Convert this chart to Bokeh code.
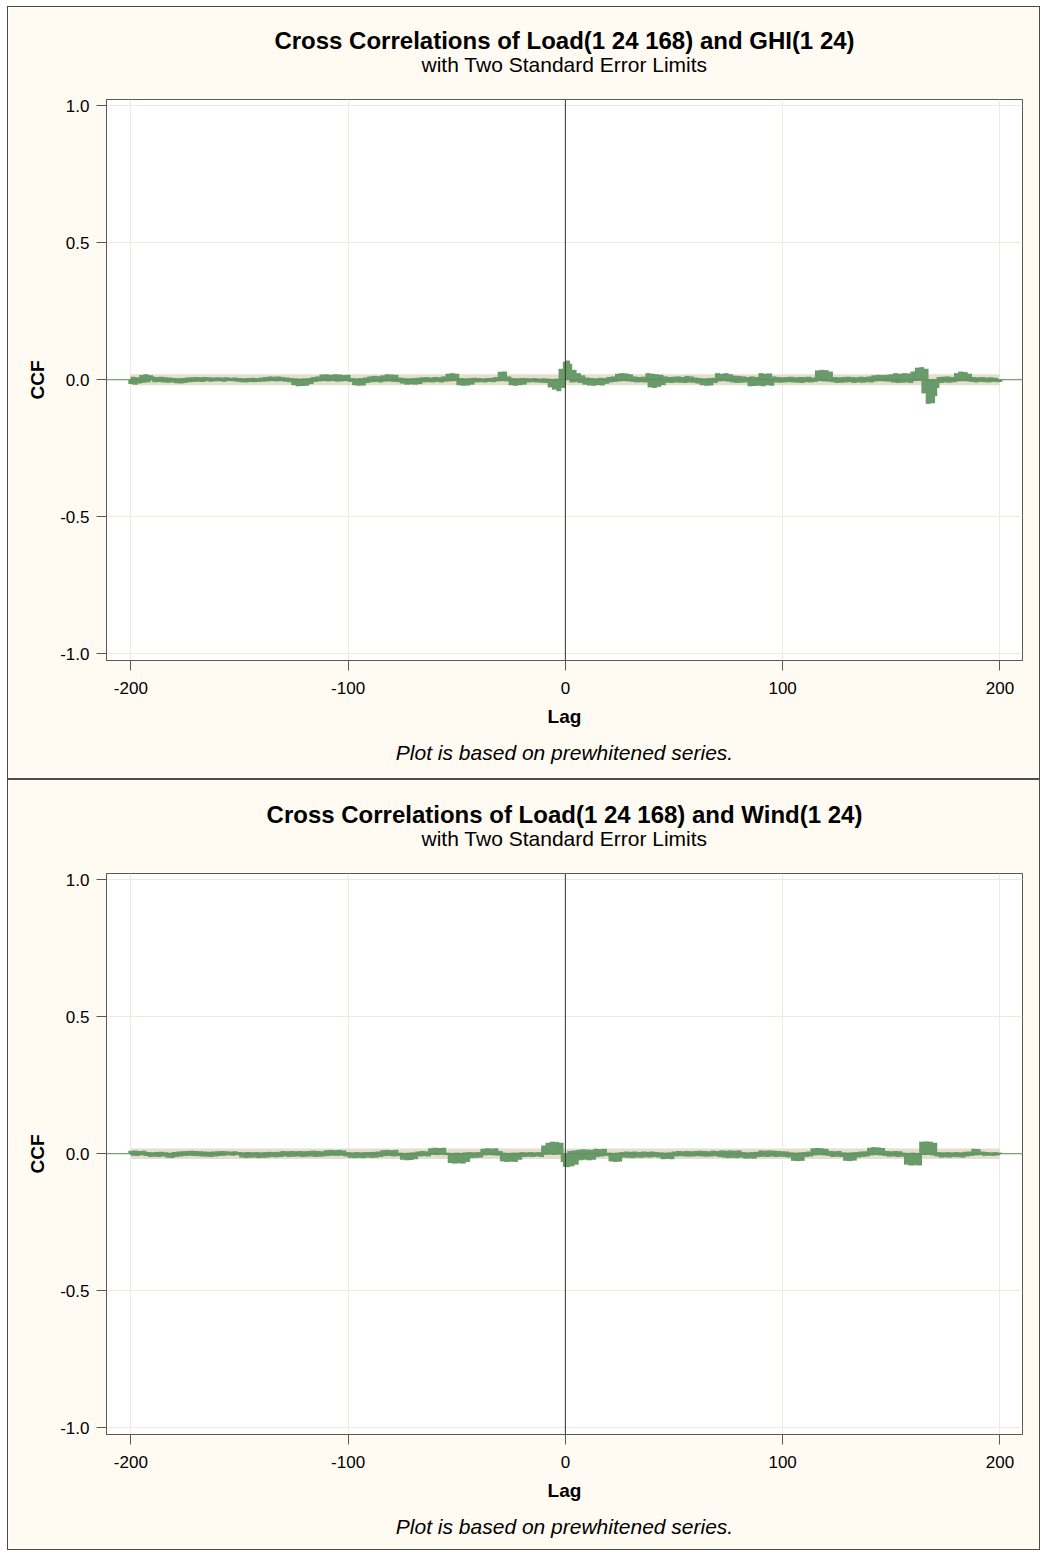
from bokeh.plotting import figure
from bokeh.models import Range1d, FixedTicker, Span, Title
from bokeh.layouts import column
from bokeh.embed import file_html
from bokeh.resources import INLINE

# ---------------- data ----------------
lags = list(range(-200, 201))

ghi_ccf = [
    -0.016, 0.011, -0.018, 0.009, -0.014, 0.017, -0.011, 0.020, -0.009, 0.016,   # -200
    0.012, -0.009, 0.010, -0.008, 0.011, -0.010, 0.009, -0.011, 0.008, -0.010,   # -190
    0.006, -0.013, 0.005, -0.014, 0.006, -0.012, 0.008, -0.009, 0.009, -0.008,   # -180
    0.010, -0.007, 0.009, -0.008, 0.010, -0.006, 0.009, -0.007, 0.008, -0.006,   # -170
    0.009, -0.006, 0.008, -0.007, 0.009, -0.005, 0.007, -0.006, 0.008, -0.007,   # -160
    0.006, -0.009, 0.005, -0.010, 0.006, -0.008, 0.007, -0.009, 0.006, -0.008,   # -150
    0.008, -0.007, 0.010, -0.006, 0.012, -0.005, 0.011, -0.006, 0.012, -0.005,   # -140
    0.010, -0.007, 0.008, -0.009, 0.006, -0.020, 0.005, -0.024, 0.004, -0.023,   # -130
    0.005, -0.022, 0.006, -0.016, 0.010, -0.008, 0.012, -0.006, 0.019, -0.005,   # -120
    0.020, -0.006, 0.018, -0.005, 0.020, -0.007, 0.019, -0.006, 0.017, -0.005,   # -110
    0.018, -0.008, 0.006, -0.020, 0.005, -0.022, 0.006, -0.021, 0.008, -0.012,   # -100
    0.012, -0.009, 0.014, -0.008, 0.013, -0.010, 0.016, -0.007, 0.020, -0.006,   # -90
    0.019, -0.008, 0.018, -0.009, 0.008, -0.014, 0.006, -0.018, 0.005, -0.017,   # -80
    0.006, -0.018, 0.007, -0.016, 0.009, -0.010, 0.010, -0.009, 0.008, -0.010,   # -70
    0.010, -0.008, 0.009, -0.010, 0.012, -0.007, 0.022, -0.006, 0.024, -0.005,   # -60
    0.022, -0.020, 0.006, -0.022, 0.005, -0.021, 0.006, -0.018, 0.007, -0.010,   # -50
    0.006, -0.009, 0.005, -0.010, 0.006, -0.008, 0.007, -0.009, 0.010, -0.006,   # -40
    0.029, -0.005, 0.030, -0.006, 0.012, -0.020, 0.006, -0.022, 0.005, -0.020,   # -30
    0.006, -0.018, 0.006, -0.010, 0.005, -0.009, 0.006, -0.010, 0.004, -0.011,   # -20
    0.005, -0.012, 0.004, -0.028, 0.003, -0.036, 0.004, -0.042, 0.040, -0.030,   # -10
    0.066, 0.070, 0.058, -0.010, 0.036, -0.009, 0.024, -0.012, 0.016, -0.018,    # 0
    0.008, -0.021, 0.006, -0.022, 0.005, -0.020, 0.007, -0.021, 0.006, -0.015,   # 10
    0.010, -0.010, 0.012, -0.008, 0.022, -0.006, 0.024, -0.005, 0.023, -0.006,   # 20
    0.020, -0.008, 0.012, -0.010, 0.010, -0.009, 0.011, -0.010, 0.024, -0.028,   # 30
    0.022, -0.030, 0.020, -0.026, 0.018, -0.020, 0.012, -0.011, 0.010, -0.012,   # 40
    0.011, -0.010, 0.012, -0.011, 0.010, -0.012, 0.014, -0.010, 0.012, -0.011,   # 50
    0.008, -0.014, 0.006, -0.020, 0.005, -0.022, 0.006, -0.021, 0.007, -0.012,   # 60
    0.024, -0.006, 0.022, -0.005, 0.024, -0.007, 0.020, -0.010, 0.015, -0.012,   # 70
    0.014, -0.011, 0.012, -0.010, 0.010, -0.024, 0.012, -0.023, 0.010, -0.022,   # 80
    0.024, -0.024, 0.022, -0.020, 0.023, -0.022, 0.012, -0.010, 0.010, -0.011,   # 90
    0.009, -0.010, 0.010, -0.009, 0.011, -0.010, 0.009, -0.011, 0.010, -0.012,   # 100
    0.010, -0.009, 0.011, -0.010, 0.008, -0.008, 0.034, -0.005, 0.036, -0.006,   # 110
    0.035, -0.007, 0.030, -0.009, 0.010, -0.012, 0.009, -0.011, 0.010, -0.010,   # 120
    0.011, -0.009, 0.010, -0.012, 0.009, -0.010, 0.011, -0.011, 0.010, -0.009,   # 130
    0.012, -0.010, 0.016, -0.006, 0.018, -0.005, 0.017, -0.006, 0.018, -0.007,   # 140
    0.020, -0.010, 0.024, -0.012, 0.022, -0.011, 0.024, -0.010, 0.023, -0.012,   # 150
    0.030, -0.005, 0.044, -0.004, 0.046, -0.050, 0.040, -0.088, -0.080, -0.086,  # 160
    -0.060, -0.030, 0.010, -0.012, 0.011, -0.010, 0.012, -0.011, 0.010, -0.009,  # 170
    0.024, -0.006, 0.030, -0.005, 0.028, -0.006, 0.022, -0.008, 0.010, -0.010,   # 180
    0.009, -0.008, 0.010, -0.009, 0.008, -0.010, 0.009, -0.008, 0.007, -0.009,   # 190
    -0.008,                                                                      # 200
]

wind_ccf = [
    0.011, -0.007, 0.012, -0.008, 0.010, -0.006, 0.011, -0.008, 0.006, -0.012,   # -200
    0.005, -0.011, 0.006, -0.012, 0.007, -0.010, 0.005, -0.015, 0.004, -0.016,   # -190
    0.006, -0.012, 0.008, -0.010, 0.009, -0.008, 0.010, -0.007, 0.011, -0.008,   # -180
    0.010, -0.009, 0.009, -0.010, 0.008, -0.011, 0.007, -0.012, 0.008, -0.010,   # -170
    0.009, -0.008, 0.010, -0.007, 0.009, -0.006, 0.008, -0.007, 0.009, -0.006,   # -160
    0.006, -0.014, 0.005, -0.016, 0.006, -0.015, 0.005, -0.014, 0.006, -0.016,   # -150
    0.005, -0.015, 0.006, -0.014, 0.007, -0.012, 0.006, -0.013, 0.007, -0.012,   # -140
    0.010, -0.010, 0.009, -0.012, 0.010, -0.011, 0.009, -0.010, 0.010, -0.012,   # -130
    0.009, -0.011, 0.010, -0.010, 0.011, -0.012, 0.010, -0.011, 0.009, -0.010,   # -120
    0.013, -0.008, 0.014, -0.007, 0.013, -0.008, 0.014, -0.007, 0.012, -0.010,   # -110
    0.006, -0.015, 0.005, -0.016, 0.006, -0.015, 0.005, -0.016, 0.006, -0.014,   # -100
    0.006, -0.015, 0.007, -0.014, 0.008, -0.012, 0.013, -0.009, 0.014, -0.008,   # -90
    0.013, -0.010, 0.014, -0.009, 0.004, -0.022, 0.003, -0.024, 0.004, -0.023,   # -80
    0.005, -0.020, 0.008, -0.010, 0.010, -0.009, 0.009, -0.010, 0.020, -0.004,   # -70
    0.022, -0.005, 0.021, -0.004, 0.022, -0.005, 0.004, -0.034, 0.003, -0.036,   # -60
    0.004, -0.035, 0.003, -0.036, 0.005, -0.030, 0.006, -0.016, 0.005, -0.015,   # -50
    0.006, -0.014, 0.018, -0.006, 0.020, -0.005, 0.019, -0.006, 0.020, -0.007,   # -40
    0.010, -0.028, 0.004, -0.030, 0.003, -0.029, 0.004, -0.030, 0.004, -0.022,   # -30
    0.006, -0.012, 0.005, -0.011, 0.006, -0.012, 0.005, -0.010, 0.006, -0.012,   # -20
    0.030, -0.004, 0.040, -0.003, 0.044, -0.004, 0.043, -0.003, 0.040, -0.030,   # -10
    -0.048, -0.049, 0.010, -0.046, 0.012, -0.040, 0.014, -0.024, 0.016, -0.022,  # 0
    0.015, -0.024, 0.014, -0.022, 0.018, -0.012, 0.017, -0.010, 0.018, -0.008,   # 10
    0.004, -0.028, 0.003, -0.030, 0.004, -0.029, 0.006, -0.014, 0.008, -0.015,   # 20
    0.007, -0.016, 0.008, -0.014, 0.006, -0.015, 0.008, -0.013, 0.007, -0.014,   # 30
    0.008, -0.012, 0.006, -0.014, 0.005, -0.020, 0.004, -0.019, 0.005, -0.020,   # 40
    0.008, -0.010, 0.010, -0.009, 0.009, -0.010, 0.010, -0.011, 0.009, -0.010,   # 50
    0.010, -0.009, 0.011, -0.010, 0.010, -0.011, 0.009, -0.010, 0.011, -0.009,   # 60
    0.010, -0.012, 0.012, -0.014, 0.011, -0.016, 0.012, -0.015, 0.011, -0.016,   # 70
    0.012, -0.014, 0.006, -0.018, 0.005, -0.017, 0.006, -0.018, 0.007, -0.012,   # 80
    0.012, -0.011, 0.011, -0.012, 0.012, -0.010, 0.011, -0.012, 0.010, -0.011,   # 90
    0.009, -0.012, 0.008, -0.014, 0.005, -0.026, 0.004, -0.027, 0.005, -0.026,   # 100
    0.006, -0.012, 0.008, -0.010, 0.020, -0.006, 0.021, -0.005, 0.020, -0.006,   # 110
    0.018, -0.008, 0.010, -0.012, 0.009, -0.011, 0.010, -0.012, 0.005, -0.026,   # 120
    0.004, -0.027, 0.005, -0.025, 0.006, -0.014, 0.008, -0.012, 0.009, -0.010,   # 130
    0.022, -0.006, 0.024, -0.005, 0.023, -0.006, 0.021, -0.008, 0.010, -0.011,   # 140
    0.009, -0.010, 0.010, -0.012, 0.009, -0.011, 0.004, -0.040, 0.003, -0.043,   # 150
    0.004, -0.042, 0.003, -0.043, 0.044, -0.005, 0.045, -0.004, 0.044, -0.006,   # 160
    0.040, -0.010, 0.006, -0.014, 0.005, -0.013, 0.006, -0.014, 0.005, -0.012,   # 170
    0.006, -0.013, 0.005, -0.014, 0.007, -0.010, 0.008, -0.008, 0.018, -0.006,   # 180
    0.017, -0.005, 0.008, -0.008, 0.006, -0.007, 0.005, -0.008, 0.006, -0.006,   # 190
    0.004,                                                                       # 200
]

ghi_limit = 0.020
wind_limit = 0.019

x_ticks = [-200, -100, 0, 100, 200]
x_tick_labels = ["-200", "-100", "0", "100", "200"]
y_ticks = [-1.0, -0.5, 0.0, 0.5, 1.0]
y_tick_labels = ["-1.0", "-0.5", "0.0", "0.5", "1.0"]

titles = ["Cross Correlations of Load(1 24 168) and GHI(1 24)",
          "Cross Correlations of Load(1 24 168) and Wind(1 24)"]
subtitle = "with Two Standard Error Limits"
footnote = "Plot is based on prewhitened series."
x_label = "Lag"
y_label = "CCF"

# ---------------- style ----------------
FONT = "Liberation Sans"
BG = "#FFFBF3"
GREEN = "#699A69"
BAND = "#E4DECC"
FRAME = "#5A5A4E"
GRID = "#ECEBDD"


def make_panel(title, ccf, limit, height, top_border, margin):
    assert len(ccf) == len(lags)
    p = figure(width=1033, height=height, output_backend="svg", toolbar_location=None,
               x_range=Range1d(-211.2, 210.4), y_range=Range1d(-1.025, 1.023),
               min_border_left=98, min_border_right=19, min_border_top=top_border,
               min_border_bottom=height - top_border - 561,
               background_fill_color="white", border_fill_color=BG,
               outline_line_color=FRAME, outline_line_width=1,
               margin=margin, styles={"border": "1px solid #4E4E44"})

    # standard error band
    p.varea(x=lags, y1=[-limit] * len(lags), y2=[limit] * len(lags), fill_color=BAND)
    # needles
    p.segment(x0=lags, y0=[0] * len(lags), x1=lags, y1=ccf,
              line_color=GREEN, line_width=5, line_cap="butt")
    p.add_layout(Span(location=0, dimension="width", line_color="#5E8E5E", line_width=1))
    p.add_layout(Span(location=0, dimension="height", line_color="#333333", line_width=1))

    for ax in (p.xaxis[0], p.yaxis[0]):
        ax.axis_line_color = FRAME
        ax.major_tick_line_color = FRAME
        ax.major_tick_out = 10
        ax.major_tick_in = 0
        ax.minor_tick_line_color = None
        ax.major_label_text_font = FONT
        ax.major_label_text_font_size = "17px"
        ax.major_label_text_color = "#000000"
        ax.axis_label_text_font = FONT
        ax.axis_label_text_font_style = "bold"
        ax.axis_label_text_font_size = "19px"
        ax.axis_label_text_color = "#000000"
    p.xaxis.ticker = FixedTicker(ticks=x_ticks)
    p.xaxis.major_label_overrides = dict(zip(x_ticks, x_tick_labels))
    p.yaxis.ticker = FixedTicker(ticks=y_ticks)
    p.yaxis.major_label_overrides = dict(zip(y_ticks, y_tick_labels))
    p.xaxis.axis_label = x_label
    p.yaxis.axis_label = y_label
    p.xaxis.major_label_standoff = 11
    p.yaxis.major_label_standoff = 7
    p.xaxis.axis_label_standoff = 9
    p.yaxis.axis_label_standoff = 9

    p.xgrid.ticker = FixedTicker(ticks=x_ticks)
    p.ygrid.ticker = FixedTicker(ticks=y_ticks)
    p.grid.grid_line_color = GRID
    p.grid.grid_line_width = 1

    # spacing between the frame and the subtitle
    p.add_layout(Title(text=" ", align="center", text_font=FONT, text_font_size="2px",
                       text_color=BG, standoff=20), "above")
    p.add_layout(Title(text=subtitle, align="center", text_font=FONT,
                       text_font_size="21px", text_font_style="normal",
                       text_color="#000000", standoff=0), "above")
    p.add_layout(Title(text=title, align="center", text_font=FONT,
                       text_font_size="24px", text_font_style="bold",
                       text_color="#000000", standoff=-6), "above")
    p.add_layout(Title(text=footnote, align="center", text_font=FONT,
                       text_font_size="21px", text_font_style="italic",
                       text_color="#000000", standoff=19), "below")
    return p


p1 = make_panel(titles[0], ghi_ccf, ghi_limit, 773, 92, (6, 0, 0, 7))
p2 = make_panel(titles[1], wind_ccf, wind_limit, 771, 93, (0, 0, 0, 7))

layout = column(p1, p2, spacing=0, styles={"background-color": "white"})

open("out.html", "w").write(file_html(layout, INLINE))
